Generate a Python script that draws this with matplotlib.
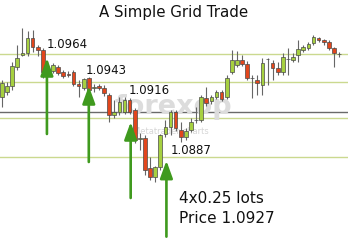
import matplotlib
matplotlib.use("Agg")
import matplotlib.pyplot as plt
import numpy as np

# OHLC (one bar per index)
opens = [1.09318, 1.09355, 1.09400, 1.09543, 1.09633, 1.09648, 1.09760, 1.09693, 1.09670, 1.09520,
         1.09513, 1.09543, 1.09505, 1.09490, 1.09505, 1.09415, 1.09385, 1.09460, 1.09385, 1.09400,
         1.09385, 1.09333, 1.09183, 1.09205, 1.09205, 1.09295, 1.09220, 1.09003, 1.09010, 1.08785,
         1.08718, 1.08793, 1.09040, 1.09093, 1.09205, 1.09070, 1.09018, 1.09070, 1.09145, 1.09145,
         1.09310, 1.09288, 1.09318, 1.09355, 1.09318, 1.09505, 1.09558, 1.09595, 1.09565, 1.09460,
         1.09445, 1.09408, 1.09603, 1.09573, 1.09535, 1.09505, 1.09603, 1.09595, 1.09633, 1.09670,
         1.09685, 1.09723, 1.09760, 1.09745, 1.09730, 1.09685, 1.09640]
closes = [1.09423, 1.09400, 1.09550, 1.09610, 1.09648, 1.09760, 1.09693, 1.09670, 1.09505, 1.09498,
          1.09558, 1.09498, 1.09475, 1.09483, 1.09415, 1.09400, 1.09453, 1.09370, 1.09393, 1.09385,
          1.09348, 1.09183, 1.09205, 1.09280, 1.09295, 1.09205, 1.08995, 1.09010, 1.08770, 1.08718,
          1.08793, 1.09033, 1.09093, 1.09205, 1.09085, 1.09018, 1.09063, 1.09130, 1.09145, 1.09318,
          1.09273, 1.09318, 1.09355, 1.09303, 1.09460, 1.09595, 1.09595, 1.09565, 1.09460, 1.09460,
          1.09423, 1.09573, 1.09603, 1.09535, 1.09505, 1.09618, 1.09603, 1.09618, 1.09678, 1.09693,
          1.09715, 1.09768, 1.09745, 1.09730, 1.09685, 1.09648, 1.09640]
highs = [1.09445, 1.09430, 1.09580, 1.09708, 1.09835, 1.09813, 1.09820, 1.09708, 1.09685, 1.09550,
         1.09573, 1.09558, 1.09520, 1.09513, 1.09520, 1.09445, 1.09460, 1.09468, 1.09415, 1.09415,
         1.09408, 1.09348, 1.09295, 1.09318, 1.09318, 1.09310, 1.09235, 1.09048, 1.09033, 1.08868,
         1.08800, 1.09040, 1.09145, 1.09220, 1.09220, 1.09130, 1.09085, 1.09160, 1.09243, 1.09333,
         1.09393, 1.09333, 1.09370, 1.09370, 1.09483, 1.09670, 1.09663, 1.09633, 1.09588, 1.09483,
         1.09483, 1.09610, 1.09610, 1.09595, 1.09580, 1.09648, 1.09685, 1.09648, 1.09745, 1.09708,
         1.09730, 1.09783, 1.09768, 1.09753, 1.09745, 1.09693, 1.09655]
lows = [1.09243, 1.09333, 1.09370, 1.09520, 1.09625, 1.09625, 1.09655, 1.09625, 1.09460, 1.09483,
        1.09498, 1.09483, 1.09460, 1.09468, 1.09400, 1.09318, 1.09370, 1.09355, 1.09355, 1.09370,
        1.09325, 1.09130, 1.09160, 1.09183, 1.09190, 1.09190, 1.08973, 1.08920, 1.08733, 1.08695,
        1.08680, 1.08770, 1.09018, 1.09033, 1.09063, 1.08980, 1.08995, 1.09055, 1.09123, 1.09130,
        1.09250, 1.09265, 1.09303, 1.09288, 1.09303, 1.09490, 1.09543, 1.09550, 1.09445, 1.09310,
        1.09333, 1.09333, 1.09408, 1.09445, 1.09483, 1.09483, 1.09483, 1.09580, 1.09580, 1.09655,
        1.09670, 1.09708, 1.09730, 1.09708, 1.09670, 1.09543, 1.09618]

# grid order levels and where the buy arrows sit
grid_levels = [1.0964, 1.0943, 1.0916, 1.0887]
grid_labels = ["1.0964", "1.0943", "1.0916", "1.0887"]
arrow_x = [8.8, 17.0, 25.2, 32.2]
label_x = [8.8, 16.3, 24.9, 33.1]
label_y = [1.09708, 1.0952, 1.09363, 1.08913]
mid_line = 1.09205

green = "#3f9a1e"
olive = "#cbd98f"

fig, ax = plt.subplots(figsize=(3.48, 2.49), dpi=100)
ax.set_position([0, 0, 1, 1])
ax.axis("off")
ax.set_xlim(-0.39, 67.76)
ax.set_ylim(1.081775, 1.10045)

# horizontal levels
for lvl in grid_levels:
    ax.axhline(lvl, color=olive, lw=1.0, zorder=1)
ax.axhline(mid_line, color="#6a6a6a", lw=1.0, zorder=1)

# watermark
ax.text(33.6, 1.09190, "forexop", fontsize=19.5, fontweight="bold",
        color="#dcdcdc", ha="center", va="baseline", zorder=1.5)
ax.text(25.6, 1.0906, "Metatrader charts", fontsize=6, color="#d6d6d6",
        ha="left", va="center", zorder=1.5)

# candles
o = np.array(opens)
c = np.array(closes)
x = np.arange(len(o))
up = c >= o
ax.vlines(x, lows, highs, color="#666666", lw=0.8, zorder=3)
bottom = np.minimum(o, c)
height = np.maximum(np.abs(c - o), 0.00003)
ax.bar(x, height, bottom=bottom, width=0.72,
       color=np.where(up, "#a6d040", "#e2461c"),
       edgecolor="#4a4a4a", linewidth=0.5, zorder=3.5)

# buy arrows
for ax_x, lvl in zip(arrow_x, grid_levels):
    ax.annotate("", xy=(ax_x, lvl - 0.0003), xytext=(ax_x, lvl - 0.0060),
                arrowprops=dict(arrowstyle="-|>,head_length=1.05,head_width=0.38",
                                color=green, lw=1.9, mutation_scale=10,
                                shrinkA=0, shrinkB=0),
                zorder=4)

for lx, ly, txt in zip(label_x, label_y, grid_labels):
    ax.text(lx, ly, txt, fontsize=8.5, color="#111111", ha="left", va="center", zorder=5)

ax.text(34.6, 1.08558, "4x0.25 lots", fontsize=11, color="#111111", ha="left", va="center", zorder=5)
ax.text(34.6, 1.08408, "Price 1.0927", fontsize=11, color="#111111", ha="left", va="center", zorder=5)

fig.text(0.5, 1 - 12 / 249, "A Simple Grid Trade", fontsize=10.8, color="#111111",
         ha="center", va="center")

fig.savefig("out.png", dpi=100)
